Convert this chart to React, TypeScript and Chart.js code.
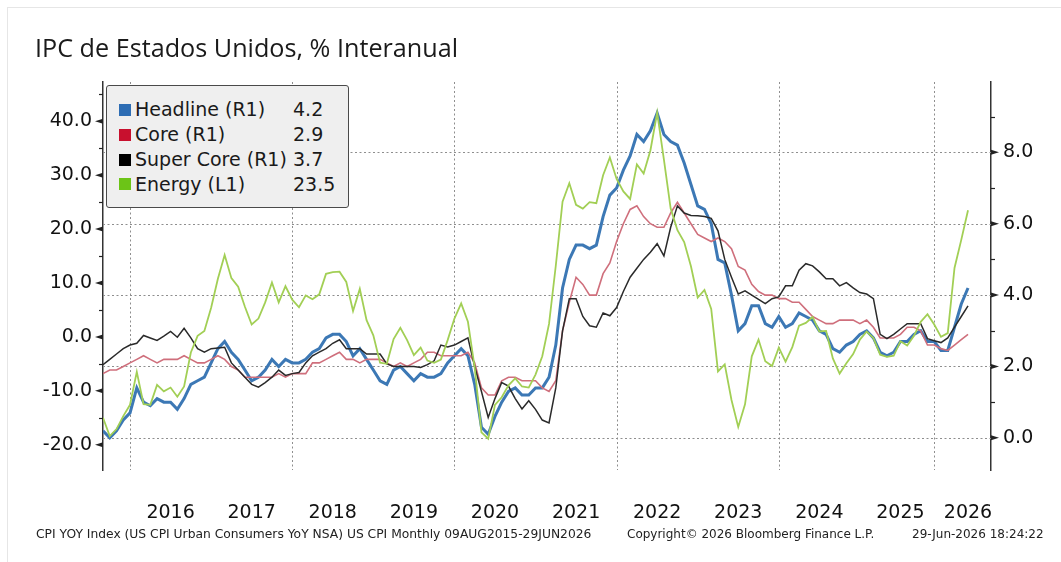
import { useEffect, useRef } from 'react';
import { Chart, registerables } from 'chart.js';

Chart.register(...registerables);

// ---------- data ----------
// Monthly observations Aug 2015 .. May 2026 (Oct 2025 not published)
const missingMonths = ['2025-10'];

function buildMonths(): string[] {
  const out: string[] = [];
  let y = 2015;
  let m = 8;
  while (y < 2026 || (y === 2026 && m <= 5)) {
    const key = `${y}-${String(m).padStart(2, '0')}`;
    if (!missingMonths.includes(key)) out.push(key);
    m++;
    if (m > 12) { m = 1; y++; }
  }
  return out;
}
const months = buildMonths();

// Headline CPI YoY (right axis)
const headline = [
  0.2, 0.0, 0.2, 0.5, 0.7,
  1.4, 1.0, 0.9, 1.1, 1.0, 1.0, 0.8, 1.1, 1.5, 1.6, 1.7, 2.1,
  2.5, 2.7, 2.4, 2.2, 1.9, 1.6, 1.7, 1.9, 2.2, 2.0, 2.2, 2.1,
  2.1, 2.2, 2.4, 2.5, 2.8, 2.9, 2.9, 2.7, 2.3, 2.5, 2.2, 1.9,
  1.6, 1.5, 1.9, 2.0, 1.8, 1.6, 1.8, 1.7, 1.7, 1.8, 2.1, 2.3,
  2.5, 2.3, 1.5, 0.3, 0.1, 0.6, 1.0, 1.3, 1.4, 1.2, 1.2, 1.4,
  1.4, 1.7, 2.6, 4.2, 5.0, 5.4, 5.4, 5.3, 5.4, 6.2, 6.8, 7.0,
  7.5, 7.9, 8.5, 8.3, 8.6, 9.1, 8.5, 8.3, 8.2, 7.7, 7.1, 6.5,
  6.4, 6.0, 5.0, 4.9, 4.0, 3.0, 3.2, 3.7, 3.7, 3.2, 3.1, 3.4,
  3.1, 3.2, 3.5, 3.4, 3.3, 3.0, 2.9, 2.5, 2.4, 2.6, 2.7, 2.9,
  3.0, 2.8, 2.4, 2.3, 2.4, 2.7, 2.7, 2.9, 3.0, 2.7, 2.7,
  2.45, 2.45, 3.1, 3.75, 4.2,
];

// Core CPI YoY (right axis)
const core = [
  1.8, 1.9, 1.9, 2.0, 2.1,
  2.2, 2.3, 2.2, 2.1, 2.2, 2.2, 2.2, 2.3, 2.2, 2.1, 2.1, 2.2,
  2.3, 2.2, 2.0, 1.9, 1.7, 1.7, 1.7, 1.7, 1.7, 1.8, 1.7, 1.8,
  1.8, 1.8, 2.1, 2.1, 2.2, 2.3, 2.4, 2.2, 2.2, 2.1, 2.2, 2.2,
  2.2, 2.1, 2.0, 2.1, 2.0, 2.1, 2.2, 2.4, 2.4, 2.3, 2.3, 2.3,
  2.3, 2.4, 2.1, 1.4, 1.2, 1.2, 1.6, 1.7, 1.7, 1.6, 1.6, 1.6,
  1.4, 1.3, 1.6, 3.0, 3.8, 4.5, 4.3, 4.0, 4.0, 4.6, 4.9, 5.5,
  6.0, 6.4, 6.5, 6.2, 6.0, 5.9, 5.9, 6.3, 6.6, 6.3, 6.0, 5.7,
  5.6, 5.5, 5.6, 5.5, 5.3, 4.8, 4.7, 4.3, 4.1, 4.0, 4.0, 3.9,
  3.9, 3.8, 3.8, 3.6, 3.4, 3.3, 3.2, 3.2, 3.3, 3.3, 3.3, 3.2,
  3.3, 3.1, 2.8, 2.8, 2.8, 2.9, 3.1, 3.1, 3.0, 2.6, 2.6,
  2.5, 2.45, 2.6, 2.75, 2.9,
];

// Super Core YoY (right axis)
const superCore = [
  2.05, 2.2, 2.35, 2.5, 2.6,
  2.65, 2.87, 2.8, 2.73, 2.85, 2.98, 2.82, 3.07, 2.8, 2.5, 2.4, 2.5,
  2.52, 2.54, 2.1, 1.9, 1.7, 1.5, 1.42, 1.55, 1.7, 1.9, 1.75, 1.8,
  1.83, 2.1, 2.3, 2.4, 2.5, 2.65, 2.75, 2.5, 2.5, 2.5, 2.35, 2.35,
  2.35, 2.07, 2.0, 2.0, 2.0, 2.0, 1.97, 2.05, 2.16, 2.6, 2.55, 2.6,
  2.7, 2.8, 2.0, 1.3, 0.57, 1.1, 1.55, 1.45, 1.1, 0.81, 1.04, 0.8,
  0.5, 0.42, 1.4, 3.0, 3.9, 3.9, 3.4, 3.14, 3.1, 3.5, 3.42, 3.65,
  4.1, 4.5, 4.75, 5.0, 5.2, 5.44, 5.1, 5.9, 6.5, 6.3, 6.23, 6.22,
  6.2, 6.15, 5.8, 5.0, 4.5, 4.03, 4.12, 4.0, 3.88, 3.76, 3.9, 3.95,
  4.26, 4.26, 4.7, 4.88, 4.82, 4.65, 4.46, 4.46, 4.26, 4.35, 4.2, 4.07,
  4.03, 3.9, 2.9, 2.78, 2.9, 3.05, 3.2, 3.2, 3.2, 2.78, 2.72,
  2.67, 2.8, 3.1, 3.4, 3.7,
];

// Energy CPI YoY (left axis)
const energy = [
  -15.0, -18.4, -17.1, -14.7, -12.6,
  -6.5, -12.5, -12.6, -8.9, -10.1, -9.4, -11.1, -9.2, -2.9, 0.2, 1.1, 5.4,
  10.8, 15.2, 10.9, 9.3, 5.6, 2.3, 3.4, 6.4, 10.1, 6.4, 9.4, 6.9,
  5.5, 7.7, 7.0, 7.9, 11.7, 12.0, 12.1, 10.2, 4.8, 8.9, 3.1, 0.3,
  -4.8, -5.0, -0.4, 1.7, -0.6, -3.4, -2.0, -4.4, -4.8, -4.2, -0.6, 3.4,
  6.2, 2.8, -5.7, -17.7, -18.9, -12.6, -11.2, -9.0, -7.7, -9.2, -9.4, -7.0,
  -3.6, 2.4, 13.2, 25.1, 28.5, 24.5, 23.8, 25.0, 24.8, 30.0, 33.3, 29.3,
  27.0, 25.6, 32.0, 30.3, 34.6, 41.6, 32.9, 23.8, 19.8, 17.6, 13.1, 7.3,
  8.7, 5.2, -6.4, -5.1, -11.7, -16.7, -12.5, -3.6, -0.5, -4.5, -5.4, -2.0,
  -4.6, -1.9, 2.1, 2.6, 3.7, 1.0, 1.1, -4.0, -6.8, -4.9, -3.2, -0.5,
  1.0, -0.2, -3.3, -3.7, -3.5, -0.8, -1.6, 0.2, 2.8, 4.2, 2.3,
  0.0, 0.7, 12.8, 18.0, 23.5,
];

const seriesNames = ['Headline (R1)', 'Core (R1)', 'Super Core (R1)', 'Energy (L1)'];
const legendColors = ['#2e6db4', '#c8102e', '#000000', '#6cc417'];
const lineColors = ['#3c78b5', '#cf6f7c', '#2a2a2a', '#a2cf55'];

const leftMajorTicks = [-20, -10, 0, 10, 20, 30, 40];
const leftMinorTicks = [-15, -5, 5, 15, 25, 35, 45];
const rightMajorTicks = [0, 2, 4, 6, 8];
const rightMinorTicks = [1, 3, 5, 7, 9];

const labelYears = [2016, 2017, 2018, 2019, 2020, 2021, 2022, 2023, 2024, 2025];
const gridYearEnds = ['2015-12', '2017-12', '2019-12', '2021-12', '2023-12', '2025-12'];

// year label positions: mid-year (June), last year at final observation
const yearTicks: { value: number; label: string }[] = [
  ...labelYears.map((y) => ({ value: months.indexOf(`${y}-06`), label: String(y) })),
  { value: months.length - 1, label: '2026' },
];
const gridIdx = gridYearEnds.map((k) => months.indexOf(k));

const FONT = "'DejaVu Sans', Verdana, sans-serif";

const toPoints = (arr: number[]) => arr.map((v, i) => ({ x: i, y: v }));

const decorPlugin = {
  id: 'decor',
  beforeDatasetsDraw(chart: any) {
    const { ctx, chartArea: a, scales } = chart;
    const yR = scales.yR;
    const x = scales.x;
    ctx.save();
    ctx.strokeStyle = '#8e8e8e';
    ctx.lineWidth = 1;
    ctx.setLineDash([2, 2.5]);
    for (const v of rightMajorTicks) {
      const py = Math.round(yR.getPixelForValue(v)) + 0.5;
      ctx.beginPath();
      ctx.moveTo(a.left, py);
      ctx.lineTo(a.right, py);
      ctx.stroke();
    }
    for (const idx of gridIdx) {
      const px = Math.round(x.getPixelForValue(idx)) + 0.5;
      ctx.beginPath();
      ctx.moveTo(px, a.top);
      ctx.lineTo(px, a.bottom);
      ctx.stroke();
    }
    ctx.restore();
  },
  afterDraw(chart: any) {
    const { ctx, chartArea: a, scales } = chart;
    const yL = scales.yL;
    const yR = scales.yR;
    ctx.save();
    ctx.fillStyle = '#222';
    ctx.strokeStyle = '#222';
    ctx.lineWidth = 1.2;
    for (const v of leftMajorTicks) {
      const py = yL.getPixelForValue(v);
      ctx.beginPath();
      ctx.moveTo(a.left, py - 2.5);
      ctx.lineTo(a.left, py + 2.5);
      ctx.lineTo(a.left - 8, py);
      ctx.closePath();
      ctx.fill();
    }
    for (const v of leftMinorTicks) {
      const py = Math.round(yL.getPixelForValue(v)) + 0.5;
      ctx.beginPath();
      ctx.moveTo(a.left, py);
      ctx.lineTo(a.left - 4, py);
      ctx.stroke();
    }
    for (const v of rightMajorTicks) {
      const py = yR.getPixelForValue(v);
      ctx.beginPath();
      ctx.moveTo(a.right, py - 2.5);
      ctx.lineTo(a.right, py + 2.5);
      ctx.lineTo(a.right + 8, py);
      ctx.closePath();
      ctx.fill();
    }
    for (const v of rightMinorTicks) {
      const py = Math.round(yR.getPixelForValue(v)) + 0.5;
      ctx.beginPath();
      ctx.moveTo(a.right, py);
      ctx.lineTo(a.right + 4, py);
      ctx.stroke();
    }
    ctx.restore();
  },
};

const allSeries = [headline, core, superCore, energy];
const axisOf = ['yR', 'yR', 'yR', 'yL'];
const widths = [3, 1.6, 1.5, 1.8];
const orders = [3, 2, 1, 0];

export default function App() {
  const ref = useRef<HTMLCanvasElement>(null);

  useEffect(() => {
    if (!ref.current) return;
    const chart = new Chart(ref.current, {
      type: 'line',
      data: {
        datasets: allSeries.map((s, k) => ({
          label: seriesNames[k],
          data: toPoints(s),
          yAxisID: axisOf[k],
          borderColor: lineColors[k],
          backgroundColor: lineColors[k],
          borderWidth: widths[k],
          pointRadius: 0,
          tension: 0,
          order: orders[k],
        })),
      },
      options: {
        responsive: false,
        animation: false,
        layout: { padding: { top: 82, left: 0, right: 0, bottom: 0 } },
        plugins: { legend: { display: false }, title: { display: false }, tooltip: { enabled: false } },
        scales: {
          x: {
            type: 'linear',
            min: 0,
            max: 131.4,
            afterBuildTicks: (scale: any) => {
              scale.ticks = yearTicks.map((t) => ({ value: t.value }));
            },
            afterFit: (scale: any) => { scale.height = 92; },
            grid: { display: false, drawTicks: false },
            border: { display: false },
            ticks: {
              autoSkip: false,
              maxRotation: 0,
              padding: 32,
              color: '#111',
              font: { family: FONT, size: 19 },
              callback: (v: any) => {
                const t = yearTicks.find((yt) => yt.value === v);
                return t ? t.label : '';
              },
            },
          },
          yL: {
            type: 'linear',
            position: 'left',
            min: -24.7,
            max: 47.3,
            afterBuildTicks: (scale: any) => {
              scale.ticks = leftMajorTicks.map((v) => ({ value: v }));
            },
            afterFit: (scale: any) => { scale.width = 103; },
            grid: { display: false, drawTicks: false },
            border: { display: true, color: '#333', width: 1.5 },
            ticks: {
              padding: 11,
              color: '#111',
              font: { family: FONT, size: 19 },
              callback: (v: any) => Number(v).toFixed(1),
            },
          },
          yR: {
            type: 'linear',
            position: 'right',
            min: -0.9,
            max: 9.97,
            afterBuildTicks: (scale: any) => {
              scale.ticks = rightMajorTicks.map((v) => ({ value: v }));
            },
            afterFit: (scale: any) => { scale.width = 70; },
            grid: { display: false, drawTicks: false },
            border: { display: true, color: '#333', width: 1.5 },
            ticks: {
              padding: 12,
              color: '#111',
              font: { family: FONT, size: 19 },
              callback: (v: any) => Number(v).toFixed(1),
            },
          },
        },
      },
      plugins: [decorPlugin],
    } as any);
    return () => chart.destroy();
  }, []);

  const rowCenters = [109.5, 134.5, 159.5, 184];

  return (
    <div
      style={{
        position: 'fixed',
        left: 0,
        top: 0,
        width: 1061,
        height: 562,
        background: '#fff',
        overflow: 'hidden',
      }}
    >
      <div
        style={{
          position: 'absolute',
          left: 7,
          top: 7,
          width: 1070,
          height: 570,
          border: '1px solid #e6e6e6',
          pointerEvents: 'none',
        }}
      />
      <canvas
        ref={ref}
        width={1061}
        height={562}
        style={{ position: 'absolute', left: 0, top: 0, width: 1061, height: 562 }}
      />
      <div
        style={{
          position: 'absolute',
          left: 35,
          top: 35,
          fontFamily: "'Open Sans', sans-serif",
          fontSize: 25.2,
          lineHeight: '25px',
          color: '#1a1a1a',
          whiteSpace: 'nowrap',
        }}
      >
        IPC de Estados Unidos, % Interanual
      </div>

      <div
        style={{
          position: 'absolute',
          left: 106,
          top: 85,
          width: 243,
          height: 123,
          boxSizing: 'border-box',
          border: '1px solid #4a4a4a',
          borderRadius: 3,
          background: '#efefef',
        }}
      />
      {seriesNames.map((name, k) => {
        const last = allSeries[k][allSeries[k].length - 1];
        const yc = rowCenters[k];
        return (
          <div key={name}>
            <div
              style={{
                position: 'absolute',
                left: 119,
                top: yc - 6,
                width: 12,
                height: 12,
                background: legendColors[k],
              }}
            />
            <div
              style={{
                position: 'absolute',
                left: 135,
                top: yc - 9.5,
                fontFamily: FONT,
                fontSize: 19,
                lineHeight: '19px',
                color: '#1a1a1a',
                whiteSpace: 'nowrap',
              }}
            >
              {name}
            </div>
            <div
              style={{
                position: 'absolute',
                left: 293,
                top: yc - 9.5,
                fontFamily: FONT,
                fontSize: 19,
                lineHeight: '19px',
                color: '#1a1a1a',
                whiteSpace: 'nowrap',
              }}
            >
              {last.toFixed(1)}
            </div>
          </div>
        );
      })}

      {[
        { text: 'CPI YOY Index (US CPI Urban Consumers YoY NSA) US CPI Monthly 09AUG2015-29JUN2026', left: 36, size: 12.3 },
        { text: 'Copyright\u00a9 2026 Bloomberg Finance L.P.', left: 627, size: 12 },
        { text: '29-Jun-2026 18:24:22', left: 912, size: 12 },
      ].map((f) => (
        <div
          key={f.text}
          style={{
            position: 'absolute',
            left: f.left,
            top: 528,
            fontFamily: FONT,
            fontSize: f.size,
            lineHeight: '12px',
            color: '#222',
            whiteSpace: 'nowrap',
          }}
        >
          {f.text}
        </div>
      ))}
    </div>
  );
}
